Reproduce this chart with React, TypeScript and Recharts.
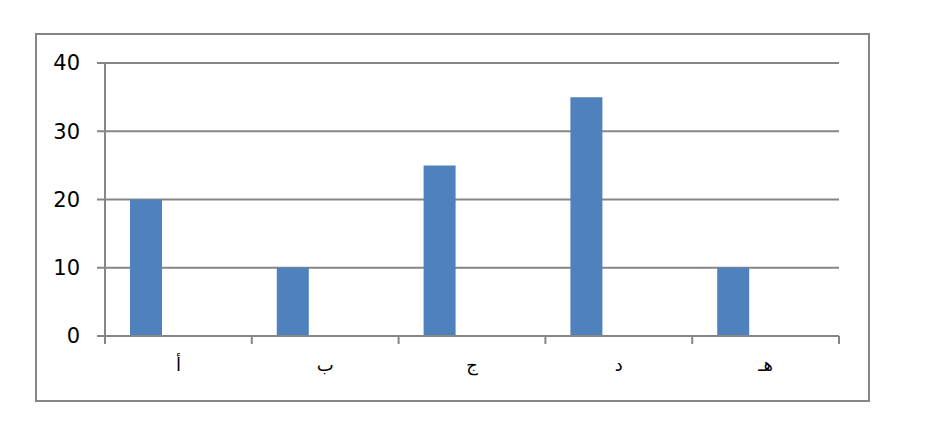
import React from 'react';
import { BarChart, Bar, XAxis, YAxis, CartesianGrid } from 'recharts';

const categories = ['أ', 'ب', 'ج', 'د', 'هـ'];
const series1 = [20, 10, 25, 35, 10];
const series2: (number | null)[] = [null, null, null, null, null];
const series3: (number | null)[] = [null, null, null, null, null];
const yTicks = [0, 10, 20, 30, 40];

const data = categories.map((c, i) => ({
  name: c,
  s1: series1[i],
  s2: series2[i],
  s3: series3[i],
}));

const GRAY = '#868686';

const CatTick = (props: any) => {
  const { x, y, payload, index, visibleTicksCount } = props;
  const off = payload && typeof payload.offset === 'number' ? payload.offset : 0;
  const last = (visibleTicksCount ?? categories.length) - 1;
  return (
    <g>
      <line x1={x - off} x2={x - off} y1={y} y2={y + 8} stroke={GRAY} strokeWidth={2} />
      {index === last && (
        <line x1={x + off} x2={x + off} y1={y} y2={y + 8} stroke={GRAY} strokeWidth={2} />
      )}
      <text
        x={x}
        y={y + 35}
        textAnchor="middle"
        fontFamily="'DejaVu Sans', sans-serif"
        fontSize={18}
        fill="#000"
      >
        {payload.value}
      </text>
    </g>
  );
};

export default function App() {
  return (
    <div style={{ position: 'relative', width: 916, height: 412 }}>
      <div
        style={{
          position: 'absolute',
          left: 27,
          top: 25,
          width: 835,
          height: 369,
          border: `2px solid ${GRAY}`,
          boxSizing: 'border-box',
        }}
      />
      <div style={{ position: 'absolute', left: 0, top: 0 }}>
        <BarChart
          width={916}
          height={412}
          data={data}
          margin={{ top: 55, right: 85, bottom: 54, left: 0 }}
          barCategoryGap={25}
          barGap={0}
        >
          <CartesianGrid vertical={false} stroke={GRAY} strokeWidth={2} />
          <XAxis
            dataKey="name"
            height={30}
            axisLine={{ stroke: GRAY, strokeWidth: 2 }}
            tickLine={false}
            tickSize={0}
            tickMargin={0}
            tick={<CatTick />}
            interval={0}
          />
          <YAxis
            width={97}
            domain={[0, 40]}
            ticks={yTicks}
            interval={0}
            axisLine={{ stroke: GRAY, strokeWidth: 2 }}
            tickLine={{ stroke: GRAY, strokeWidth: 2 }}
            tickSize={8}
            tickMargin={17}
            tick={{ fill: '#000', fontSize: 21, fontFamily: "'DejaVu Sans', sans-serif" }}
          />
          <Bar dataKey="s1" fill="#4F81BD" isAnimationActive={false} />
          <Bar dataKey="s2" fill="#C0504D" isAnimationActive={false} />
          <Bar dataKey="s3" fill="#9BBB59" isAnimationActive={false} />
        </BarChart>
      </div>
    </div>
  );
}
